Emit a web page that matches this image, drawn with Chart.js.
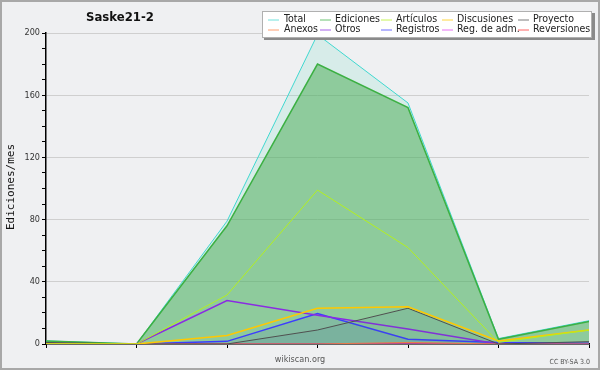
<!DOCTYPE html>
<html>
<head>
<meta charset="utf-8">
<script src="https://cdn.jsdelivr.net/npm/chart.js@4/dist/chart.umd.min.js"></script>
<style>
  html, body { margin: 0; padding: 0; background: #eff0f2; }
  #wrap { width: 600px; height: 370px; }
</style>
</head>
<body>
<div id="wrap"><canvas id="chart" width="600" height="370"></canvas></div>
<script>
const chartTitle = "Saske21-2";
const months = ["1", "2", "3", "4", "5", "6", "7"];
const yTicks = [0, 40, 80, 120, 160, 200];

const total       = [2, 0, 79, 199, 155, 3.5, 15];
const ediciones   = [2, 0, 76, 180, 152, 3, 14.5];
const articulos   = [0, 0, 31.5, 99, 62, 1, 9];
const discusiones = [0, 0, 5.5, 23, 24, 2, 9];
const proyecto    = [1, 0, 0, 9, 23, 0, 1.5];
const anexos      = [0, 0, 0, 0, 1, 0, 0];
const otros       = [0, 0, 28, 18.5, 9.6, 0, 0];
const registros   = [0, 0, 1.7, 19.6, 3, 1, 0.5];
const regAdm      = [0, 0, 0, 0, 0, 0, 0];
const reversiones = [0, 0, 0, 0, 0.5, 0, 0];

const FONT = "'DejaVu Sans Condensed', 'Liberation Sans Narrow', 'DejaVu Sans', sans-serif";

function ds(label, data, color, extra) {
  return Object.assign({
    label, data,
    borderColor: color,
    backgroundColor: color,
    borderWidth: 1,
    pointRadius: 0,
    tension: 0,
    fill: false,
    order: 0
  }, extra || {});
}

const datasets = [
  ds("Total", total, "#40d8d0", { fill: "origin", backgroundColor: "rgba(120,220,200,0.2)", order: 10 }),
  ds("Ediciones", ediciones, "#3cb043", { fill: "origin", backgroundColor: "rgba(70,170,80,0.5)", borderWidth: 1.5, order: 9 }),
  ds("Artículos", articulos, "#b4f01e"),
  ds("Discusiones", discusiones, "#ffc800", { borderWidth: 1.5 }),
  ds("Proyecto", proyecto, "#505050", { fill: "origin", backgroundColor: "rgba(60,110,140,0.12)" }),
  ds("Anexos", anexos, "#ff7f40"),
  ds("Otros", otros, "#8a2be2", { borderWidth: 1.5 }),
  ds("Registros", registros, "#3c3cff", { fill: "origin", backgroundColor: "rgba(60,80,200,0.12)", borderWidth: 1.5 }),
  ds("Reg. de adm.", regAdm, "#e040f0"),
  ds("Reversiones", reversiones, "#ff3030")
];

// background, frame, title, legend and footer texts
const decor = {
  id: "decor",
  beforeDraw(chart) {
    const ctx = chart.ctx;
    ctx.save();
    ctx.fillStyle = "#eff0f2";
    ctx.fillRect(0, 0, 600, 370);
    ctx.restore();
  },
  afterDraw(chart) {
    const ctx = chart.ctx;
    ctx.save();
    ctx.strokeStyle = "#a8a8a8";
    ctx.lineWidth = 2;
    ctx.strokeRect(1, 1, 598, 368);

    ctx.fillStyle = "#111";
    ctx.font = "bold 13px " + FONT;
    ctx.textBaseline = "middle";
    ctx.textAlign = "left";
    ctx.fillText(chartTitle, 86, 18);

    ctx.save();
    ctx.translate(11, 187);
    ctx.rotate(-Math.PI / 2);
    ctx.textAlign = "center";
    ctx.font = "11px 'DejaVu Sans Mono', monospace";
    ctx.fillStyle = "#111";
    ctx.fillText("Ediciones/mes", 0, 0);
    ctx.restore();

    ctx.fillStyle = "#555";
    ctx.textAlign = "center";
    ctx.font = "9px " + FONT;
    ctx.fillText("wikiscan.org", 300, 360);
    ctx.textAlign = "right";
    ctx.font = "7px " + FONT;
    ctx.fillText("CC BY-SA 3.0", 590, 362);

    // legend box
    ctx.fillStyle = "#8a8a8a";
    ctx.fillRect(264, 13, 331, 27);
    ctx.fillStyle = "#ffffff";
    ctx.fillRect(262, 11, 330, 27);
    ctx.strokeStyle = "#b0b0b0";
    ctx.lineWidth = 1;
    ctx.strokeRect(262.5, 11.5, 329, 26);

    const colLine = [268, 320, 381, 442, 518];
    const colText = [284, 335, 396, 457, 533];
    const rows = [19.5, 29.5];
    ctx.font = "10.5px " + FONT;
    ctx.textAlign = "left";
    chart.data.datasets.forEach((d, i) => {
      const r = Math.floor(i / 5), c = i % 5;
      const y = rows[r];
      ctx.strokeStyle = d.borderColor;
      ctx.globalAlpha = 0.75;
      ctx.beginPath();
      ctx.moveTo(colLine[c], y + 0.5);
      ctx.lineTo(colLine[c] + 11, y + 0.5);
      ctx.stroke();
      ctx.globalAlpha = 1;
      ctx.fillStyle = "#222";
      ctx.fillText(d.label, colText[c], y);
    });
    ctx.restore();
  }
};

new Chart(document.getElementById("chart"), {
  type: "line",
  data: { labels: months, datasets },
  options: {
    responsive: false,
    animation: false,
    layout: { padding: { left: 0, top: 33, right: 11, bottom: 0 } },
    plugins: { legend: { display: false }, tooltip: { enabled: false } },
    scales: {
      x: {
        offset: false,
        border: { color: "#000", width: 1.5 },
        grid: { drawOnChartArea: false, drawTicks: true, tickLength: 4, tickColor: "#000" },
        ticks: { display: false },
        afterFit: s => { s.height = 26; }
      },
      y: {
        min: 0,
        max: 200,
        border: { color: "#000", width: 1.5 },
        ticks: {
          stepSize: 10,
          autoSkip: false,
          color: "#333",
          font: { family: FONT, size: 9 },
          padding: 2,
          callback: v => (yTicks.includes(v) ? v : "")
        },
        grid: {
          color: c => (c.tick && c.tick.value % 40 === 0 ? "#cfcfcf" : "rgba(0,0,0,0)"),
          tickColor: "#000",
          tickLength: 4
        },
        afterFit: s => { s.width = 46; }
      }
    }
  },
  plugins: [decor]
});
</script>
</body>
</html>
